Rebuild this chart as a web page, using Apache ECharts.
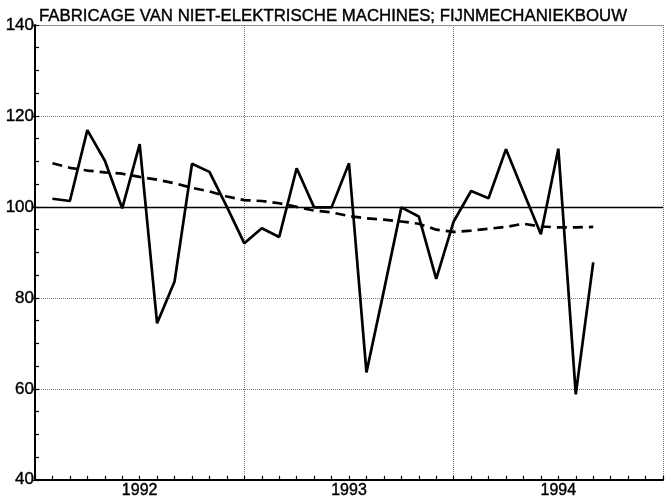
<!DOCTYPE html>
<html lang="nl">
<head>
    <meta charset="UTF-8">
    <title>Fabricage van niet-elektrische machines; fijnmechaniekbouw</title>
    <script src="https://cdn.jsdelivr.net/npm/echarts/dist/echarts.min.js"></script>
    <style>
        html, body { margin: 0; padding: 0; background: #fff; }
        #chart { width: 666px; height: 499px; }
    </style>
</head>
<body>
<div id="chart"></div>
<script>
    // monthly index, Jan 1992 .. Aug 1994 (x = month number on the axis)
    var index = [101.8, 101.3, 116.9, 110.2, 99.7, 113.8, 74.4, 83.6, 109.5, 107.7, 100.0, 92.0,
                 95.3, 93.4, 108.5, 99.9, 99.9, 109.6, 63.6, 81.6, 99.9, 97.9, 84.2, 96.8,
                 103.5, 101.9, 112.7, 103.3, 94.0, 112.8, 58.8, 87.8];
    // trend (dashed)
    var trend = [109.6, 108.6, 108.0, 107.6, 107.3, 106.6, 106.0, 105.2, 104.2, 103.4, 102.3, 101.5,
                 101.3, 100.8, 100.0, 99.2, 98.8, 98.0, 97.5, 97.2, 96.8, 96.3, 95.0, 94.5,
                 94.8, 95.2, 95.6, 96.3, 95.7, 95.5, 95.5, 95.6];
    var yearLabels = { 6: '1992', 18: '1993', 30: '1994' };
    var yTicks = [40, 60, 80, 100, 120, 140];

    function toPoints(arr) {
        return arr.map(function (v, i) { return [i + 1, v]; });
    }

    var chart = echarts.init(document.getElementById('chart'));
    var font = 'Liberation Sans, Arial, sans-serif';
    // scanned print looks a bit heavier than plain regular
    var ink = { color: '#000', textBorderColor: '#000', textBorderWidth: 0.4 };

    chart.setOption({
        animation: false,
        title: {
            text: 'FABRICAGE VAN NIET-ELEKTRISCHE MACHINES; FIJNMECHANIEKBOUW',
            left: 34,
            top: 3,
            textStyle: Object.assign({ fontFamily: font, fontSize: 16.8, fontWeight: 'normal' }, ink)
        },
        grid: { left: 35, right: 0, top: 25, bottom: 19 },
        xAxis: [
            {
                type: 'value', min: 0, max: 36, interval: 1, position: 'bottom',
                axisLine: { lineStyle: { color: '#000', width: 2 } },
                axisTick: { inside: true, length: 4, lineStyle: { color: '#000', width: 1.2 } },
                axisLabel: Object.assign({
                    fontFamily: font, fontSize: 16, margin: 3,
                    formatter: function (v) { return yearLabels[v] || ''; }
                }, ink),
                splitLine: { show: false }
            },
            {
                type: 'value', min: 0, max: 36, interval: 12, position: 'top',
                axisLine: { show: true, lineStyle: { color: '#777', width: 1, type: 'dotted' } },
                axisTick: { show: false },
                axisLabel: { show: false },
                splitLine: { show: true, lineStyle: { color: '#777', width: 1, type: 'dotted' } }
            }
        ],
        yAxis: [
            {
                type: 'value', min: 40, max: 140, interval: 20, position: 'left',
                axisLine: { show: true, lineStyle: { color: '#000', width: 2 } },
                axisTick: { show: true, length: 3, lineStyle: { color: '#000', width: 1.2 } },
                axisLabel: Object.assign({
                    fontFamily: font, fontSize: 17, margin: 1,
                    formatter: function (v) { return yTicks.indexOf(v) >= 0 ? String(v) : ''; }
                }, ink),
                splitLine: { show: true, lineStyle: { color: '#777', width: 1, type: 'dotted' } }
            },
            {
                type: 'value', min: 40, max: 140, interval: 5, position: 'left', offset: 0,
                axisLine: { show: false },
                axisTick: { show: true, inside: true, length: 4, lineStyle: { color: '#000', width: 1.2 } },
                axisLabel: { show: false },
                splitLine: { show: false }
            }
        ],
        series: [
            {
                name: 'trend',
                type: 'line',
                data: toPoints(trend),
                showSymbol: false,
                lineStyle: { color: '#000', width: 2.7, type: [10, 6] },
                markLine: {
                    silent: true,
                    symbol: 'none',
                    label: { show: false },
                    lineStyle: { color: '#000', width: 1.3, type: 'solid' },
                    data: [{ yAxis: 100 }]
                }
            },
            {
                name: 'index',
                type: 'line',
                data: toPoints(index),
                showSymbol: false,
                lineStyle: { color: '#000', width: 2.7 }
            }
        ]
    });
</script>
</body>
</html>
